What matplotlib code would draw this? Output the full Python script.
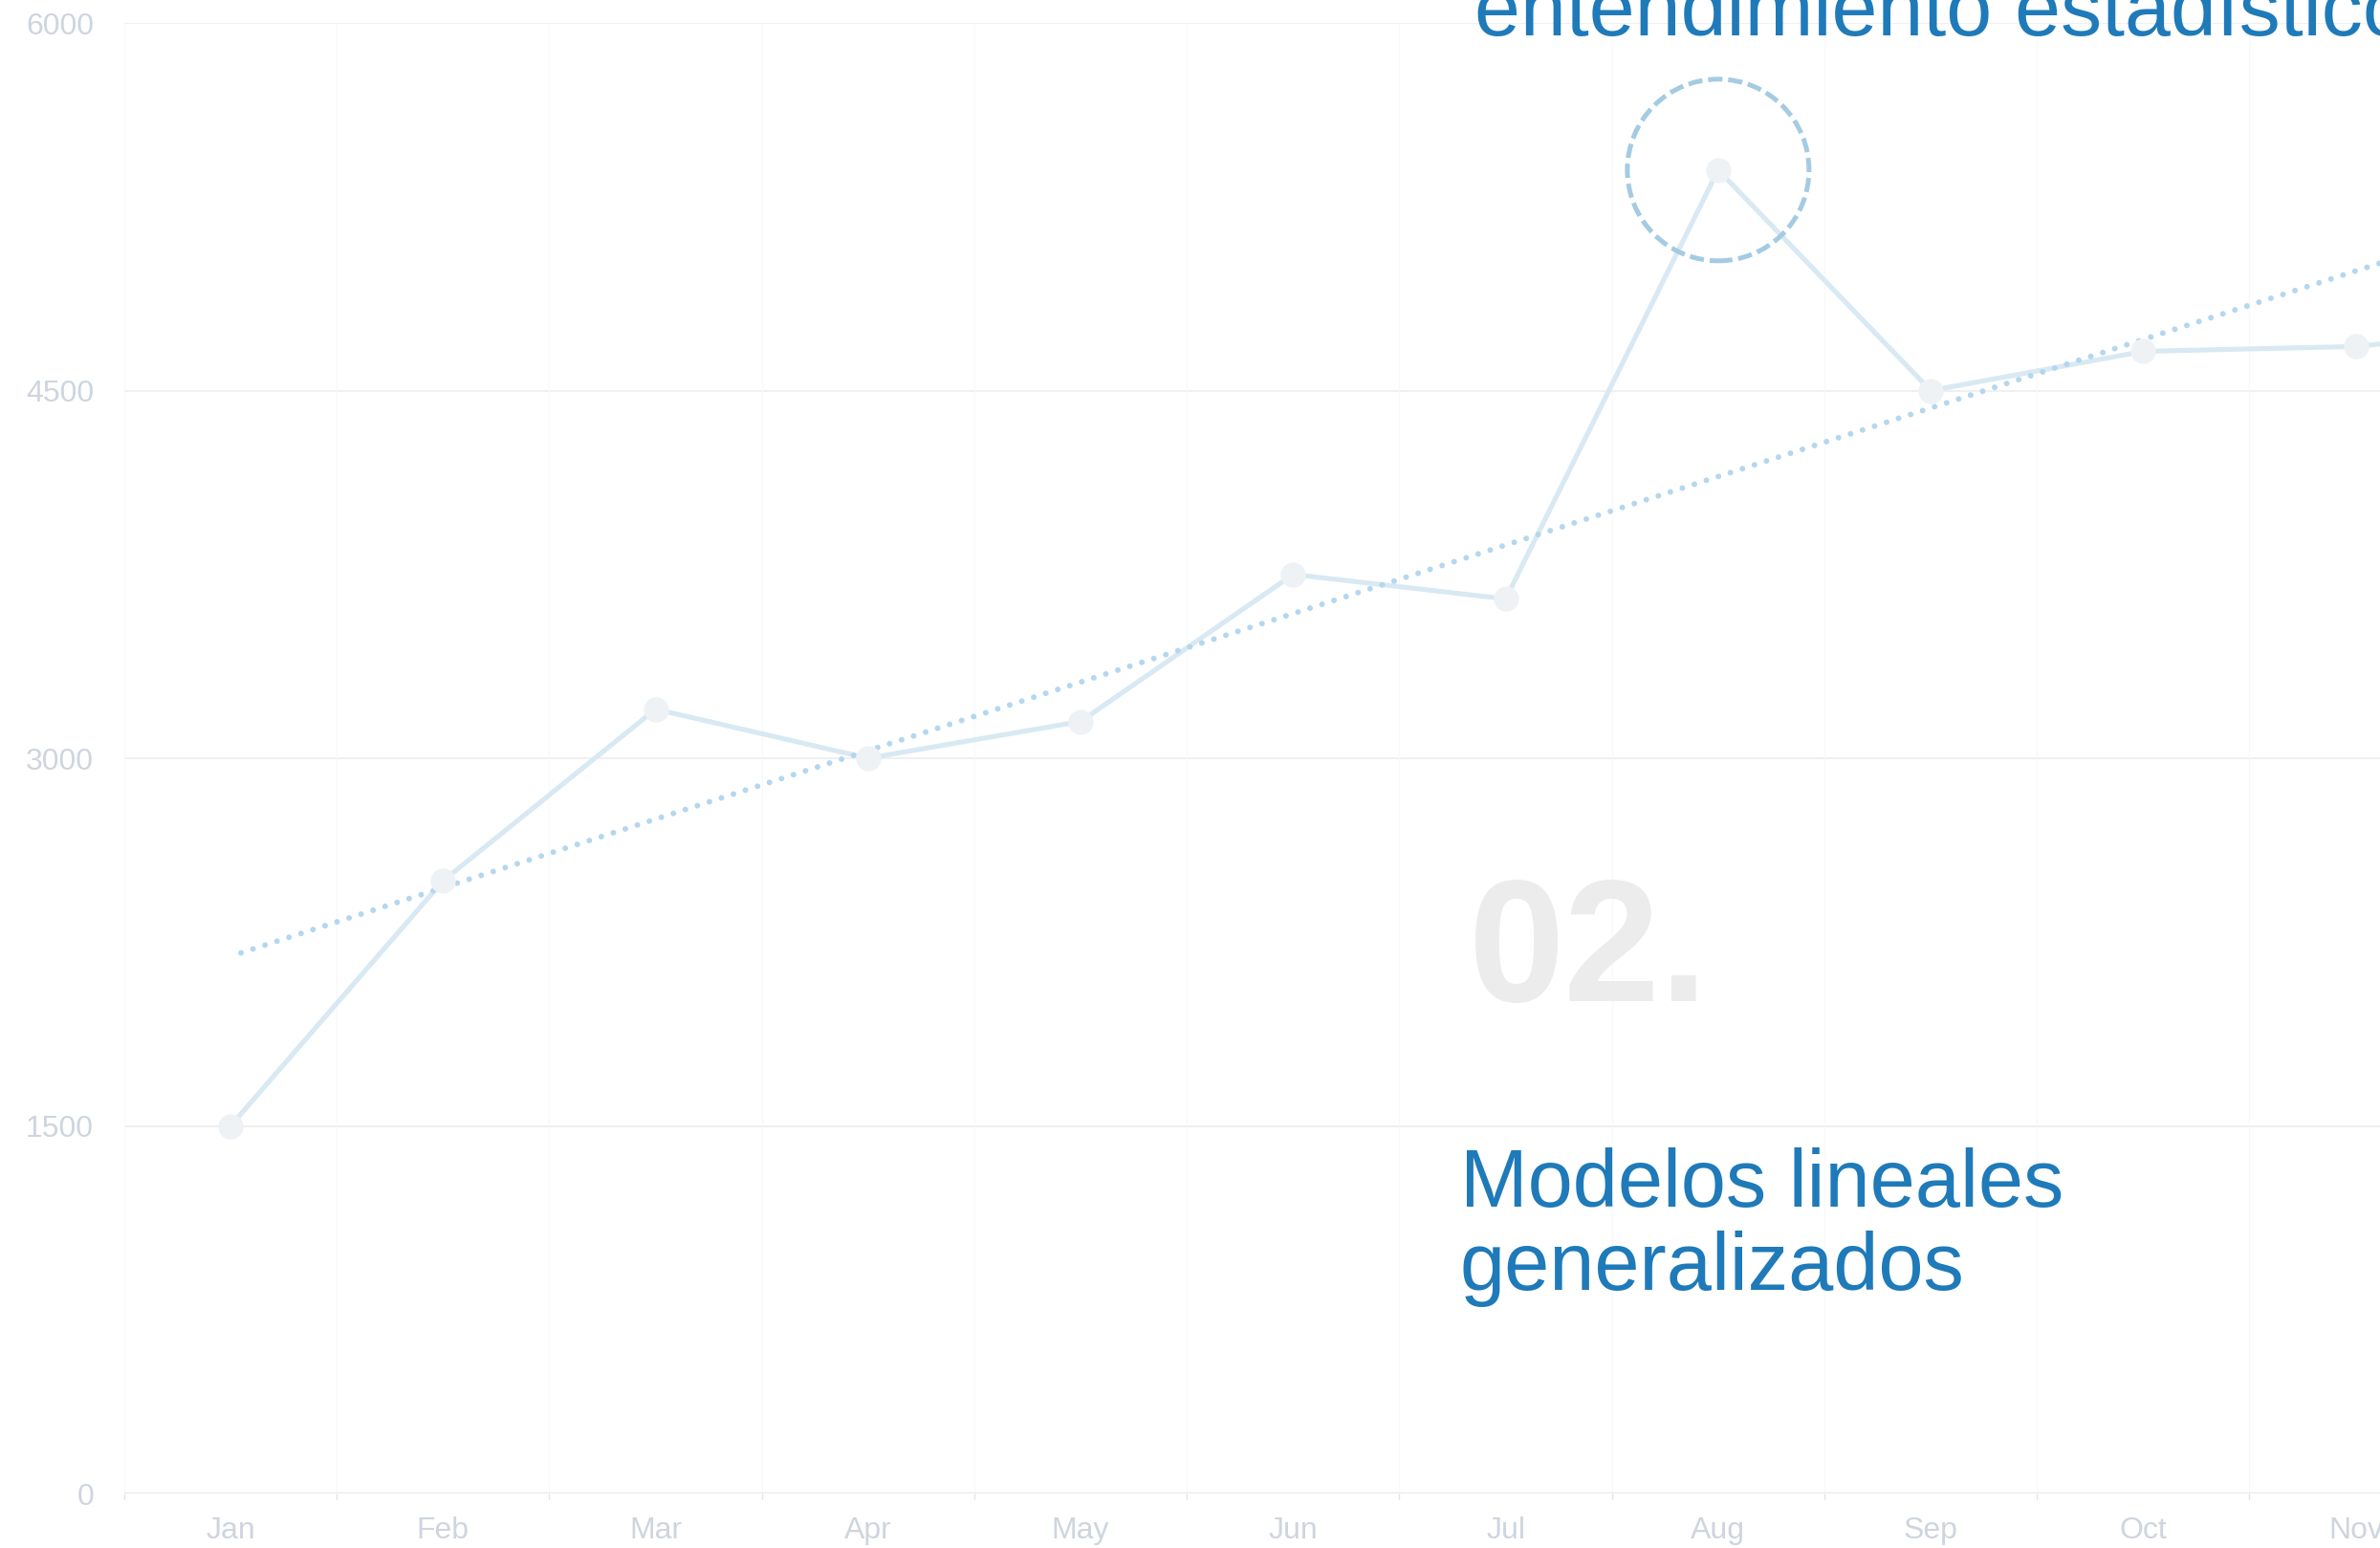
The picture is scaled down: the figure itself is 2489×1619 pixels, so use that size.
import numpy as np
import matplotlib
matplotlib.use("Agg")
import matplotlib.pyplot as plt
from matplotlib.patches import Circle
from matplotlib.transforms import ScaledTranslation

plt.rcParams['font.family'] = ['Liberation Sans', 'DejaVu Sans']

# monthly values (Dec is off the right edge)
months = ["Jan", "Feb", "Mar", "Apr", "May", "Jun",
          "Jul", "Aug", "Sep", "Oct", "Nov", "Dec"]
values = [1500, 2500, 3200, 3000, 3150, 3750, 3650, 5400, 4500, 4660, 4680, 4770]
yticks = [0, 1500, 3000, 4500, 6000]
highlight = 7  # Aug

line_col = "#d8e9f3"
marker_col = "#eff2f5"
trend_col = "#b5d7ee"
circle_col = "#a5cbe3"
label_col = "#ced5df"
blue = "#1f7ab9"

W, H = 2489, 1619
dpi = 100
fig = plt.figure(figsize=(W / dpi, H / dpi), dpi=dpi)
fig.patch.set_facecolor("white")

# axes runs past the right edge of the figure on purpose
ax = fig.add_axes([130 / W, 1 - 1562 / H, 2667 / W, (1562 - 24) / H])
ax.set_facecolor("white")

x = np.arange(len(months))
ax.set_xlim(-0.5, len(months) - 0.5)
ax.set_ylim(0, 6000)

# grid
for yv in yticks[1:]:
    ax.axhline(yv, color="#f0f0f0", lw=1.5, zorder=0)
for xb in np.arange(-0.5, len(months), 1):
    ax.axvline(xb, color="#f7f8fa", lw=0.8, zorder=0)
ax.axhline(0, color="#e9e9e9", lw=2.4, zorder=1)

for s in ax.spines.values():
    s.set_visible(False)

ax.set_yticks(yticks)
ax.set_yticklabels([str(v) for v in yticks])
ax.tick_params(axis="y", length=0, pad=23, labelsize=23, labelcolor=label_col)

ax.set_xticks(x)
ax.set_xticklabels(months)
ax.tick_params(axis="x", which="major", length=0, pad=17, labelsize=23,
               labelcolor=label_col)
ax.set_xticks(np.arange(-0.5, len(months), 1), minor=True)
ax.tick_params(axis="x", which="minor", length=4, width=1, color="#e3e3e3",
               direction="out")

# data line
ax.plot(x, values, color=line_col, lw=3.7, zorder=2, solid_capstyle="round")

# linear trend
slope, icpt = np.polyfit(x, values, 1)
ax.plot(x, icpt + slope * x, color=trend_col, lw=4.3,
        linestyle=(0.3, (0.01, 2.2)), dash_capstyle="round", zorder=3)

ax.plot(x, values, linestyle="none", marker="o", ms=19,
        markerfacecolor=marker_col, markeredgewidth=0, zorder=4)

# dashed ring round the peak
tr = fig.dpi_scale_trans + ScaledTranslation(x[highlight], values[highlight], ax.transData)
ring = Circle((0, 0), 0.95, transform=tr, fill=False, edgecolor=circle_col,
              lw=3.6, linestyle=(0, (3, 1.2)), zorder=5)
ax.add_artist(ring)

# texts
fig.text(1542 / W, 1 - 37 / H, "entendimiento estadístico", color=blue,
         fontsize=62, ha="left", va="baseline")
fig.text(1536 / W, 1 - 1047 / H, "02.", color="#ececec", fontsize=130,
         fontweight="bold", ha="left", va="baseline")
fig.text(1527 / W, 1 - 1262 / H, "Modelos lineales", color=blue,
         fontsize=61, ha="left", va="baseline")
fig.text(1527 / W, 1 - 1349 / H, "generalizados", color=blue,
         fontsize=61, ha="left", va="baseline")

fig.savefig("out.png", dpi=dpi)
